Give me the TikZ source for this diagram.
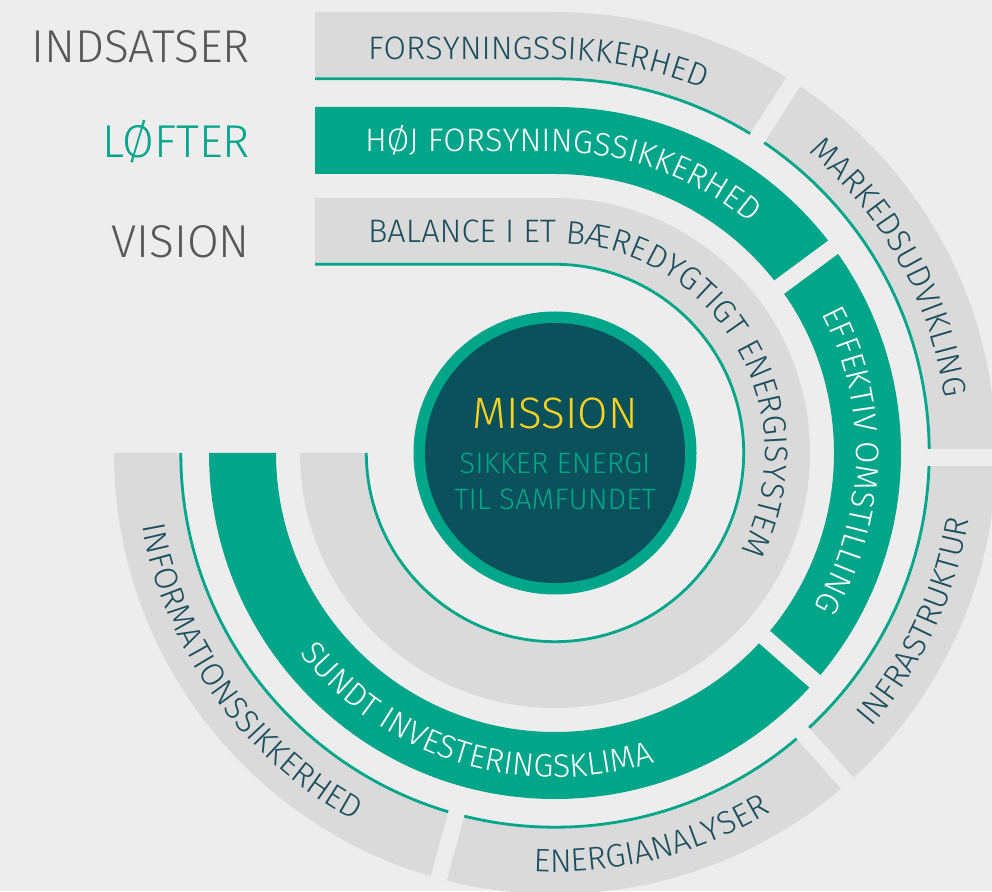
\documentclass[tikz,border=0pt]{standalone}
\usepackage{fontspec}
\IfFontExistsTF{Fira Sans Light}{\newfontfamily\din{Fira Sans Light}}{\newfontfamily\din{Fira Sans}}
\usetikzlibrary{decorations.text}
\definecolor{bg}{HTML}{EDEDED}
\definecolor{band}{HTML}{DADADA}
\definecolor{ekteal}{HTML}{00A58A}
\definecolor{darkc}{HTML}{0B515C}
\definecolor{txt}{HTML}{1B4E5D}
\definecolor{lblgray}{HTML}{575757}
\definecolor{yel}{HTML}{FBD31E}
\newcommand\bandtxt{\din\fontsize{32.5}{39}\selectfont\color{txt}}
\newcommand\bandwht{\din\fontsize{32.5}{39}\selectfont\color{white}}
\tikzset{
  lbl/.style={font=\din\fontsize{46}{55}\selectfont, anchor=base east, inner sep=0pt},
  ctr/.style={anchor=base, inner sep=0pt},
  gapline/.style={draw=bg, line width=16.5pt},
  tealline/.style={draw=ekteal, line width=2.8pt},
  ontext/.style={decorate, decoration={text along path, text align=center, text={#1}}},
  indtext/.style 2 args={decorate, decoration={text along path, text align={left indent=#1}, text={#2}}}
}
\begin{document}
\begin{tikzpicture}[x=1pt,y=1pt]
\fill[bg] (0,0) rectangle (992,891);
\useasboundingbox (0,0) rectangle (992,891);
\coordinate (C) at (555,438);
% outer ring (indsatser)
\fill[band] (315,879) -- (555,879) arc[start angle=90,end angle=-180,radius=441]
  -- (179.5,438) arc[start angle=180,end angle=450,radius=375.5] -- (315,813.5) -- cycle;
\draw[tealline] (315,812.2) -- (555,812.2) arc[start angle=90,end angle=-180,radius=374.2];
% middle ring (loefter)
\fill[ekteal] (315,784) -- (555,784) arc[start angle=90,end angle=-180,radius=346]
  -- (276,438) arc[start angle=180,end angle=450,radius=279] -- (315,717) -- cycle;
% inner ring (vision)
\fill[band] (315,693) -- (555,693) arc[start angle=90,end angle=-180,radius=255]
  -- (365,438) arc[start angle=180,end angle=450,radius=190] -- (315,628) -- cycle;
\draw[tealline] (315,626.7) -- (555,626.7) arc[start angle=90,end angle=-180,radius=188.7];
% gaps
\draw[gapline] ([shift={(555,438)}]57.3:362) -- ([shift={(555,438)}]57.3:452);
\draw[gapline] (912,433.3) -- (1000,433.3);
\draw[gapline] ([shift={(555,438)}]-48.5:362) -- ([shift={(555,438)}]-48.5:452);
\draw[gapline] ([shift={(555,438)}]-105.3:362) -- ([shift={(555,438)}]-105.3:452);
\draw[gapline] ([shift={(555,438)}]36.5:268) -- ([shift={(555,438)}]36.5:356);
\draw[gapline] ([shift={(555,438)}]-41.3:268) -- ([shift={(555,438)}]-41.3:356);
% centre
\fill[ekteal] (C) circle[radius=141.5];
\fill[darkc] (C) circle[radius=130];
\node[ctr, text=yel, font=\din\fontsize{44}{52}\selectfont] (mission) at (555,462) {MISSION};
\node[ctr, text=ekteal, font=\din\fontsize{29.5}{35}\selectfont] (sikker) at (555,417) {SIKKER ENERGI};
\node[ctr, text=ekteal, font=\din\fontsize{29.5}{35}\selectfont] (samf) at (555,381) {TIL SAMFUNDET};
% left labels
\node[lbl, text=lblgray] (indsatser) at (250,828) {INDSATSER};
\node[lbl, text=ekteal] (lofter) at (250,733) {LØFTER};
\node[lbl, text=lblgray] (vision) at (250,633.5) {VISION};
% ring texts
\path[indtext={53pt}{|\bandtxt|FORSYNINGSSIKKERHED}] (315,831.5) -- (555,831.5) arc[start angle=90,end angle=30,radius=393.5];
\path[ontext={|\bandtxt|MARKEDSUDVIKLING}] ([shift={(555,438)}]57:393.5) arc[start angle=57,end angle=1,radius=393.5];
\path[ontext={|\bandtxt|INFRASTRUKTUR}] ([shift={(555,438)}]-50:419) arc[start angle=-50,end angle=0,radius=419];
\path[ontext={|\bandtxt|ENERGIANALYSER}] ([shift={(555,438)}]-104:419) arc[start angle=-104,end angle=-48,radius=419];
\path[ontext={|\bandtxt|INFORMATIONSSIKKERHED}] ([shift={(555,438)}]180:419) arc[start angle=180,end angle=251.4,radius=419];
\path[indtext={50pt}{|\bandwht|HØJ FORSYNINGSSIKKERHED}] (315,739) -- (555,739) arc[start angle=90,end angle=20,radius=301];
\path[ontext={|\bandwht|EFFEKTIV OMSTILLING}] ([shift={(555,438)}]36:301) arc[start angle=36,end angle=-39,radius=301];
\path[ontext={|\bandwht|SUNDT INVESTERINGSKLIMA}] ([shift={(555,438)}]180:324.5) arc[start angle=180,end angle=326,radius=324.5];
\path[indtext={53pt}{|\bandtxt|BALANCE I ET BÆREDYGTIGT ENERGISYSTEM}] (315,648) -- (555,648) arc[start angle=90,end angle=-60,radius=210];
\end{tikzpicture}
\end{document}
